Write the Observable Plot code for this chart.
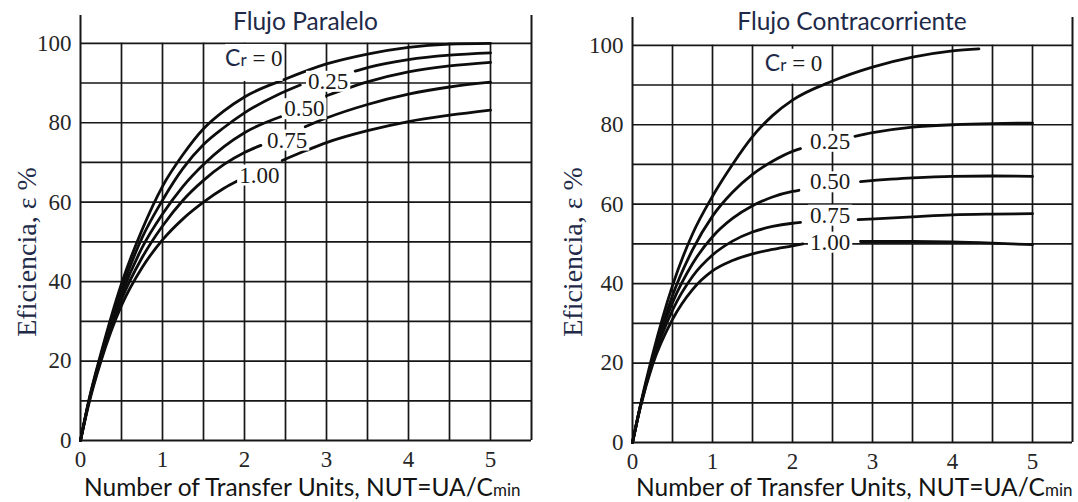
<!DOCTYPE html>
<html>
<head>
<meta charset="utf-8">
<script src="https://cdn.jsdelivr.net/npm/d3@7"></script>
<script src="https://cdn.jsdelivr.net/npm/@observablehq/plot@0.6"></script>
<style>
  html, body { margin: 0; padding: 0; background: #fff; }
  #chart { display: flex; width: 1078px; height: 502px; overflow: hidden; }
  #chart svg { display: block; }
</style>
</head>
<body>
<div id="chart"></div>
<script>
// Effectiveness–NTU charts: [NUT, efficiency %]; null marks where a curve breaks for its label.
const paraleloCr0   = [[0,0],[0.1,10],[0.25,22],[0.5,39.5],[0.75,53],[1,64],[1.25,72],[1.5,78.5],[1.75,83],[2,86.5],[2.5,91],[3,94.8],[3.5,97.3],[4,99],[4.5,99.8],[5,100]];
const paraleloCr025 = [[0,0],[0.1,9.7],[0.25,21.5],[0.5,38],[0.75,51],[1,60.5],[1.25,68.5],[1.5,74.5],[1.75,78.8],[2,82.5],[2.4,87],[2.68,89.5],[3,null],[3.35,93],[3.5,93.9],[4,95.9],[4.5,97],[5,97.6]];
const paraleloCr050 = [[0,0],[0.1,9.6],[0.25,21],[0.5,36.8],[0.75,48.5],[1,57],[1.25,64],[1.5,69.5],[1.75,74],[2,77.5],[2.44,81.5],[2.7,null],[3,86.8],[3.5,90.3],[4,92.8],[4.5,94.3],[5,95.2]];
const paraleloCr075 = [[0,0],[0.1,9.5],[0.25,20.5],[0.5,35.5],[0.75,46],[1,54],[1.25,60.5],[1.5,65.5],[1.75,69.5],[2,72.5],[2.2,74.3],[2.5,null],[2.74,79],[3,81.2],[3.5,84.6],[4,87.2],[4.5,89],[5,90.2]];
const paraleloCr100 = [[0,0],[0.1,9.1],[0.25,20],[0.5,34],[0.75,43.5],[1,50.5],[1.25,55.8],[1.5,60],[1.75,63.5],[1.93,65.5],[2.2,null],[2.46,70.5],[2.75,73],[3,75],[3.5,78],[4,80.3],[4.5,81.9],[5,83.2]];

const contraCr0   = [[0,0],[0.1,9.5],[0.25,22],[0.5,39.5],[0.75,52.5],[1,62],[1.25,70],[1.5,77],[1.75,82.3],[2,86.2],[2.5,91],[3,94.5],[3.5,97],[4,98.6],[4.33,99.1]];
const contraCr025 = [[0,0],[0.1,9.3],[0.25,21],[0.5,37],[0.75,48.5],[1,57],[1.25,63],[1.5,67.5],[1.75,70.8],[2,73.3],[2.1,74],[2.45,null],[2.78,77.1],[3,78],[3.5,79.4],[4,80],[4.5,80.3],[5,80.4]];
const contraCr050 = [[0,0],[0.1,9.3],[0.25,20.8],[0.5,35.2],[0.75,45],[1,51.8],[1.25,56.4],[1.5,59.6],[1.75,61.8],[2,63.2],[2.08,63.5],[2.45,null],[2.85,65.7],[3.5,66.6],[4,67],[4.5,67.1],[5,67]];
const contraCr075 = [[0,0],[0.1,9.2],[0.25,20.2],[0.5,33.3],[0.75,41.8],[1,47.2],[1.25,50.7],[1.5,53],[1.75,54.4],[2,55.2],[2.1,55.4],[2.45,null],[2.82,56.1],[3.5,56.8],[4,57.3],[4.5,57.5],[5,57.6]];
const contraCr100 = [[0,0],[0.1,9],[0.25,19.5],[0.5,31],[0.75,38.5],[1,43.2],[1.25,45.8],[1.5,47.5],[1.75,48.6],[2,49.5],[2.13,50],[2.45,null],[2.85,50.6],[3.5,50.6],[4,50.5],[4.5,50.2],[5,49.8]];

// Curve labels (Cr values) and where they sit: [NUT, efficiency %]
const crLabels = ["0.25", "0.50", "0.75", "1.00"];
const paraleloLabelPos = [[3.02,90.4],[2.73,83.5],[2.52,75.6],[2.18,66.8]];
const contraLabelPos   = [[2.47,75.8],[2.47,65.6],[2.47,57.2],[2.47,50.4]];
const paraleloCrZeroPos = [2.12, 96.2];
const contraCrZeroPos   = [2.02, 95.5];

// Axes
const xTicks = [0, 1, 2, 3, 4, 5];
const yTicks = [0, 20, 40, 60, 80, 100];
const xGrid = [0.5, 1, 1.5, 2, 2.5, 3, 3.5, 4, 4.5, 5];
const yGrid = [10, 20, 30, 40, 50, 60, 70, 80, 90, 100];
const titles = ["Flujo Paralelo", "Flujo Contracorriente"];
const yLabel = "Eficiencia, \u03b5 %";
const xLabelMain = "Number of Transfer Units, NUT=UA/C";
const xLabelSub = "min";

const X_MAX = 5.5, Y_MAX = 107;
const INK = "#161616";
const NAVY = "#1e2a48";
const SERIF = "'Liberation Serif', serif";
const SANS = "Lato, sans-serif";

function toRows(curves) {
  const rows = [];
  curves.forEach((pts, i) => pts.forEach(([n, e]) => rows.push({key: i, n, e})));
  return rows;
}

// White box behind a text element (same transform), like a paste-over label
function backWithBox(textNode, padX, padTop, padBottom) {
  const b = textNode.getBBox();
  const rect = document.createElementNS("http://www.w3.org/2000/svg", "rect");
  rect.setAttribute("x", b.x - padX);
  rect.setAttribute("y", b.y - padTop);
  rect.setAttribute("width", b.width + 2 * padX);
  rect.setAttribute("height", b.height + padTop + padBottom);
  rect.setAttribute("fill", "white");
  const t = textNode.getAttribute("transform");
  if (t) rect.setAttribute("transform", t);
  textNode.parentNode.insertBefore(rect, textNode);
}

function panel({width, marginLeft, marginRight, marginTop, marginBottom, curves, labelPos, crZero, title, yLabelX}) {
  const rows = toRows(curves);
  const labels = labelPos.map(([n, e], i) => ({n, e, t: crLabels[i]}));
  const plot = Plot.plot({
    width, height: 502, marginLeft, marginRight, marginTop, marginBottom,
    style: {fontFamily: SERIF, fontSize: "23px", color: "#262626", background: "white", overflow: "visible"},
    x: {domain: [0, X_MAX], ticks: xTicks, tickFormat: (d) => `${d}`, tickSize: 0, tickPadding: 10, label: null},
    y: {domain: [0, Y_MAX], ticks: yTicks, tickFormat: (d) => `${d}`, tickSize: 0, tickPadding: 9, label: null},
    marks: [
      Plot.ruleX(xGrid, {y1: 0, y2: 100, stroke: INK, strokeWidth: 1.7}),
      Plot.ruleY(yGrid, {x1: 0, x2: X_MAX, stroke: INK, strokeWidth: 1.7}),
      Plot.ruleX([0, X_MAX], {y1: 0, y2: Y_MAX, stroke: INK, strokeWidth: 2}),
      Plot.ruleY([0], {x1: 0, x2: X_MAX, stroke: INK, strokeWidth: 2}),
      Plot.line(rows, {x: "n", y: "e", z: "key", curve: "monotone-x", stroke: "#0d0d0d", strokeWidth: 2.8}),
      Plot.text(labels, {x: "n", y: "e", text: "t", fontSize: 23, fontFamily: SERIF, fill: "#1a1a1a"})
    ]
  });

  const svg = d3.select(plot);
  const sx = plot.scale("x"), sy = plot.scale("y");
  const left = sx.apply(0), right = sx.apply(X_MAX);

  // Title, centred over the frame
  svg.append("text")
    .attr("x", (left + right) / 2).attr("y", 30)
    .attr("text-anchor", "middle")
    .attr("font-family", SANS).attr("font-size", 24.5)
    .attr("fill", NAVY)
    .text(title);

  // "Cr = 0" label
  const cz = svg.append("text")
    .attr("class", "cr-zero")
    .attr("x", sx.apply(crZero[0])).attr("y", sy.apply(crZero[1]))
    .attr("dy", "0.35em")
    .attr("text-anchor", "middle");
  cz.append("tspan").attr("font-family", SANS).attr("font-size", 23).attr("fill", NAVY).text("C");
  cz.append("tspan").attr("font-family", SANS).attr("font-size", 17).attr("fill", NAVY).text("r");
  cz.append("tspan").attr("font-family", SERIF).attr("font-size", 23).attr("fill", "#1a1a1a").text(" = 0");

  // y axis title
  svg.append("text")
    .attr("transform", `translate(${yLabelX},${252}) rotate(-90)`)
    .attr("text-anchor", "middle").attr("dy", "0.35em")
    .attr("font-family", SERIF).attr("font-size", 28)
    .attr("fill", NAVY)
    .text(yLabel);

  // x axis title with subscript-sized "min"
  const xl = svg.append("text")
    .attr("x", left + 4).attr("y", 496)
    .attr("text-anchor", "start")
    .attr("font-family", SANS)
    .attr("fill", "#141414");
  xl.append("tspan").attr("font-size", 24.5).text(xLabelMain);
  xl.append("tspan").attr("font-size", 17).text(xLabelSub);

  return plot;
}

const chart = document.getElementById("chart");
const plots = [
  panel({
    width: 540, marginLeft: 80, marginRight: 9, marginTop: 15, marginBottom: 62,
    curves: [paraleloCr0, paraleloCr025, paraleloCr050, paraleloCr075, paraleloCr100],
    labelPos: paraleloLabelPos, crZero: paraleloCrZeroPos, title: titles[0], yLabelX: 26
  }),
  panel({
    width: 538, marginLeft: 92, marginRight: 6, marginTop: 17, marginBottom: 60,
    curves: [contraCr0, contraCr025, contraCr050, contraCr075, contraCr100],
    labelPos: contraLabelPos, crZero: contraCrZeroPos, title: titles[1], yLabelX: 32
  })
];
plots.forEach((p) => chart.append(p));

// Paste-over backgrounds for the curve labels, once the charts are in the page
plots.forEach((p, i) => {
  p.querySelectorAll('g[aria-label="text"] text').forEach((t) => backWithBox(t, 2, -2, -2));
  p.querySelectorAll("text.cr-zero").forEach((t) => backWithBox(t, 0, -1, i === 0 ? 10 : 8));
});
</script>
</body>
</html>
